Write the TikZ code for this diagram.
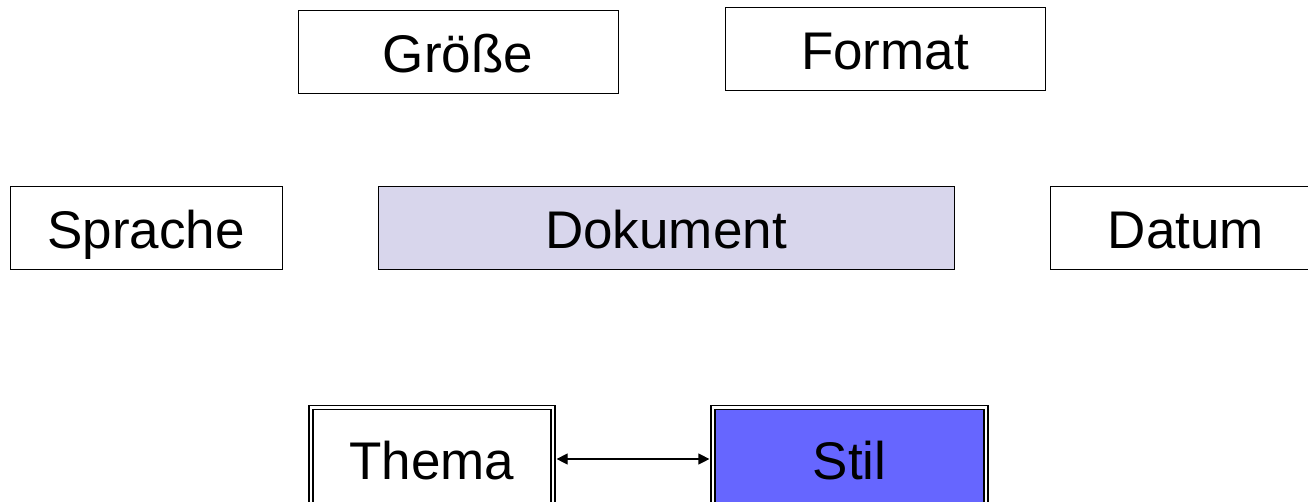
\documentclass[tikz,border=0pt]{standalone}
\usepackage{fontspec}
\setmainfont{Liberation Sans}
\usetikzlibrary{arrows.meta}
\definecolor{dokfill}{RGB}{216,214,236}
\definecolor{stilfill}{RGB}{102,102,255}
\tikzset{
  label font/.style={font=\fontsize{53}{60}\selectfont, text height=41pt, text depth=0pt},
  box/.style={draw=black, line width=0.9pt, fill=white, inner sep=0pt,
    minimum height=83pt, label font},
  dblbox/.style={draw=black, line width=1.6pt, double=white, double distance=2.4pt,
    inner sep=0pt, minimum height=103pt, label font},
  link/.style={line width=1.2pt, {Triangle[length=11pt,width=11pt]}-{Triangle[length=11pt,width=11pt]}}
}
\begin{document}
\begin{tikzpicture}[x=1pt,y=-1pt]
  \useasboundingbox (0,0) rectangle (1308,501);
  % upper row
  \node[box, minimum width=320pt] (groesse) at (458,51.5) {Größe};
  \node[box, minimum width=320pt] (format) at (885,48.5) {Format};
  % middle row
  \node[box, minimum width=272pt] (sprache) at (146,227.5) {Sprache};
  \node[box, minimum width=576pt, fill=dokfill] (dokument) at (666,227.5) {Dokument};
  \node[box, minimum width=272pt] (datum) at (1186,227.5) {Datum};
  % lower row with double frames
  \node[dblbox, minimum width=242pt, fill=white] (thema) at (432,459) {Thema};
  \node[dblbox, minimum width=273pt, fill=stilfill] (stil) at (849.5,459) {Stil};
  % connector ends just outside the double frames
  \path (thema.east) ++(2.8,0) coordinate (a)
        (stil.west) ++(-2.8,0) coordinate (b);
  \draw[link] (a) -- (b);
\end{tikzpicture}
\end{document}
